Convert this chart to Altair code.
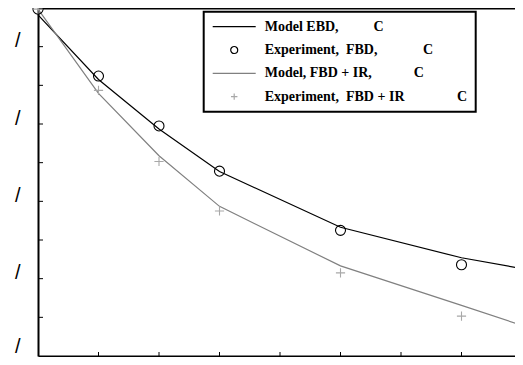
import altair as alt
import pandas as pd

NB = "\u00a0"

# ---- data ----
x_model = [0, 1, 2, 3, 5, 7, 8]
model_ebd = [8.82, 7.15, 5.87, 4.77, 3.33, 2.54, 2.26]
model_fbd_ir = [8.97, 6.79, 5.18, 3.87, 2.33, 1.31, 0.79]

x_exp = [0, 1, 2, 3, 5, 7, 8]
exp_fbd = [8.97, 7.24, 5.95, 4.78, 3.25, 2.36, 2.15]
exp_fbd_ir = [8.97, 6.87, 5.03, 3.75, 2.15, 1.03, 0.55]

y_ticks = [1, 2, 3, 4, 5, 6, 7, 8]
x_ticks = [1, 2, 3, 4, 5, 6, 7]
y_label_values = [0, 2, 4, 6, 8]

lab1 = "Model EBD," + NB * 10 + "C"
lab2 = "Experiment," + NB * 2 + "FBD," + NB * 13 + "C"
lab3 = "Model, FBD + IR," + NB * 12 + "C"
lab4 = "Experiment," + NB * 2 + "FBD + IR" + NB * 15 + "C" + NB
series = [lab1, lab2, lab3, lab4]
colors = ["#000000", "#000000", "#808080", "#a8a8a8"]
circle_path = "M0.163,0A0.163,0.163,0,1,1,-0.163,0A0.163,0.163,0,1,1,0.163,0Z"
plus_path = "M-0.15,0L0.15,0M0,-0.15L0,0.15"
line_path = "M-1,0L1,0"
shapes = [line_path, circle_path, line_path, plus_path]

lines_df = pd.DataFrame({
    "x": x_model + x_model,
    "y": model_ebd + model_fbd_ir,
    "series": [lab1] * len(x_model) + [lab3] * len(x_model),
})
pts_df = pd.DataFrame({
    "x": x_exp + x_exp,
    "y": exp_fbd + exp_fbd_ir,
    "series": [lab2] * len(x_exp) + [lab4] * len(x_exp),
})
ytick_df = pd.DataFrame({"y": y_ticks})
xtick_df = pd.DataFrame({"x": x_ticks})

# the reference plot runs past the right edge of the picture
xscale = alt.Scale(domain=[0, 8], range=[0, 484], nice=False, zero=False)
yscale = alt.Scale(domain=[0, 9], nice=False, zero=False)

y_axis = alt.Axis(
    title=None, values=y_label_values, ticks=False, grid=False,
    labelExpr="'/'", labelFont="Liberation Sans", labelFontSize=20,
    labelColor="black", labelPadding=18,
    labelBaseline={"condition": {"test": "datum.value == 0", "value": "bottom"}, "value": "alphabetic"},
    domainColor="black", domainWidth=2,
)
x_axis_bottom = alt.Axis(
    title=None, labels=False, ticks=False, grid=False,
    domainColor="black", domainWidth=2, orient="bottom",
)
x_axis_top = alt.Axis(
    title=None, labels=False, ticks=False, grid=False,
    domainColor="black", domainWidth=2, orient="top",
)

legend = alt.Legend(
    title=None, orient="none", legendX=165.7, legendY=3.7,
    direction="vertical", padding=8, labelOffset=8, clipHeight=14,
    labelFont="Liberation Serif", labelFontWeight="bold", labelFontSize=14,
    labelColor="black", labelLimit=400, symbolSize=1849,
    symbolStrokeWidth=1.2, rowPadding=9.3, strokeColor="black",
)
color = alt.Color("series:N", scale=alt.Scale(domain=series, range=colors), legend=legend)
shape = alt.Shape("series:N", scale=alt.Scale(domain=series, range=shapes), legend=legend)

lines = alt.Chart(lines_df).mark_line(strokeWidth=1.2).encode(
    x=alt.X("x:Q", scale=xscale, axis=x_axis_bottom),
    y=alt.Y("y:Q", scale=yscale, axis=y_axis),
    color=color,
)
points = alt.Chart(pts_df).mark_point(filled=False, size=3770, strokeWidth=1.1, opacity=1).encode(
    x=alt.X("x:Q", scale=xscale, axis=None),
    y=alt.Y("y:Q", scale=yscale, axis=y_axis),
    color=color,
    shape=shape,
)
yticks = alt.Chart(ytick_df).mark_rule(color="black", strokeWidth=1).encode(
    y=alt.Y("y:Q", scale=yscale, axis=y_axis),
    x=alt.value(0),
    x2=alt.value(5),
)
xticks = alt.Chart(xtick_df).mark_rule(color="black", strokeWidth=1).encode(
    x=alt.X("x:Q", scale=xscale, axis=x_axis_top),
    y=alt.value(348),
    y2=alt.value(344),
)

chart = alt.layer(lines, points, yticks, xticks).resolve_axis(x="independent").properties(
    width=477, height=348,
    autosize=alt.AutoSizeParams(type="none"),
    padding={"left": 30, "top": 0, "right": 0, "bottom": 1},
    background="white",
).configure_view(strokeWidth=0).configure_legend(strokeWidth=2)

chart.save("out.html", embed_options={"renderer": "svg", "actions": False})
